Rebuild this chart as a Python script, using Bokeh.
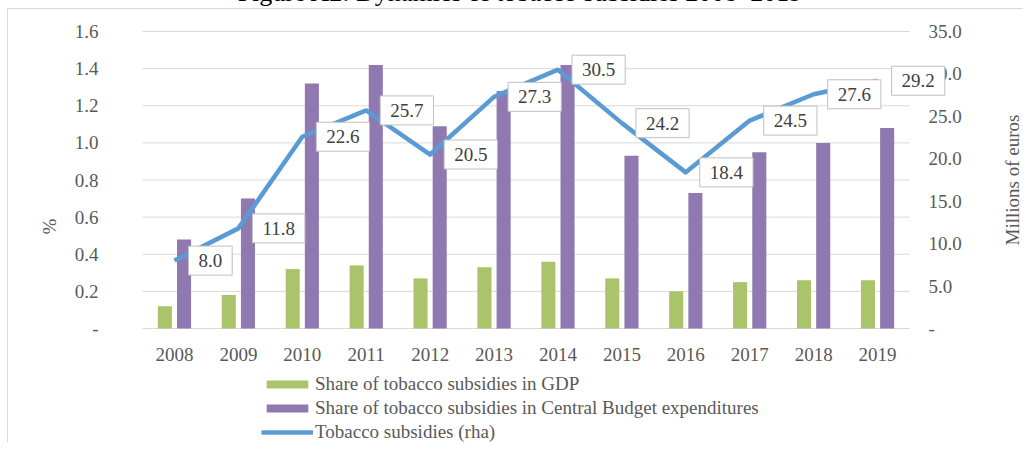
import math
from bokeh.plotting import figure
from bokeh.models import (FactorRange, Range1d, LinearAxis, FixedTicker, Legend, LegendItem,
                          Label, ColumnDataSource, Div, PrintfTickFormatter)
from bokeh.transform import dodge
from bokeh.layouts import column
from bokeh.embed import file_html
from bokeh.resources import INLINE

# ---------------- data ----------------
title_text = "Figure A2: Dynamics of tobacco subsidies 2008\u20132019"
years = ["2008", "2009", "2010", "2011", "2012", "2013", "2014", "2015", "2016", "2017", "2018", "2019"]
gdp_share = [0.12, 0.18, 0.32, 0.34, 0.27, 0.33, 0.36, 0.27, 0.20, 0.25, 0.26, 0.26]
budget_share = [0.48, 0.70, 1.32, 1.42, 1.09, 1.28, 1.42, 0.93, 0.73, 0.95, 1.00, 1.08]
subsidies = [8.0, 11.8, 22.6, 25.7, 20.5, 27.3, 30.5, 24.2, 18.4, 24.5, 27.6, 29.2]
left_ticks = [0, 0.2, 0.4, 0.6, 0.8, 1, 1.2, 1.4, 1.6]
left_tick_labels = ["-", "0.2", "0.4", "0.6", "0.8", "1.0", "1.2", "1.4", "1.6"]
right_ticks = [0, 5, 10, 15, 20, 25, 30, 35]
right_tick_labels = ["-", "5.0", "10.0", "15.0", "20.0", "25.0", "30.0", "35.0"]
series_names = ["Share of tobacco subsidies in GDP",
                "Share of tobacco subsidies in Central Budget expenditures",
                "Tobacco subsidies (rha)"]
left_axis_title = "%"
right_axis_title = "Millions of euros"

# ---------------- style / geometry ----------------
GREEN = "#A9C46A"
PURPLE = "#9079B0"
BLUE = "#5B9BD5"
GRID = "#d9d9d9"
TXT = "#595959"
FONT = "Liberation Serif"
FS = "19px"

W, H = 1016, 434           # canvas
BORDER_L = 19              # blank strip left of the frame
PLOT_W = 767               # width of the category area (px)
SIDE = 115                 # px of frame on each side of the category area
PLOT_TOP = 22              # px from frame top to the top gridline
PLOT_H = 297               # px between bottom and top gridline
n = len(years)
cat_px = PLOT_W / n
pad_units = SIDE / cat_px
left_max, right_max = left_ticks[-1], right_ticks[-1]
lpx = PLOT_H / left_max
rpx = PLOT_H / right_max
below_px = H - PLOT_TOP - PLOT_H

src = ColumnDataSource(dict(year=years, gdp=gdp_share, budget=budget_share, subs=subsidies))

p = figure(width=W, height=H,
           x_range=FactorRange(factors=years, range_padding=2 * pad_units / n,
                               range_padding_units="percent"),
           y_range=Range1d(-below_px / lpx, left_max + PLOT_TOP / lpx),
           output_backend="svg", toolbar_location=None,
           min_border=0, min_border_left=BORDER_L, min_border_right=0,
           min_border_top=0, min_border_bottom=0,
           outline_line_color=None, background_fill_color="white", border_fill_color="white",
           styles={"border-top": "1px solid #d9d9d9", "border-left": "1px solid #d9d9d9"})
p.extra_y_ranges = {"right": Range1d(-below_px / rpx, right_max + PLOT_TOP / rpx)}

p.xgrid.grid_line_color = None
p.ygrid.grid_line_color = None

# horizontal gridlines limited to the category area
p.segment(x0=[0] * len(left_ticks), x1=[n] * len(left_ticks), y0=left_ticks, y1=left_ticks,
          line_color=GRID, line_width=1)

r1 = p.vbar(x=dodge("year", -0.15, range=p.x_range), top="gdp", width=0.22, source=src,
            fill_color=GREEN, line_color=None)
r2 = p.vbar(x=dodge("year", 0.15, range=p.x_range), top="budget", width=0.22, source=src,
            fill_color=PURPLE, line_color=None)
r3 = p.line(x="year", y="subs", y_range_name="right", source=src,
            line_color=BLUE, line_width=4.5, line_join="round")

def style_axis(ax):
    ax.axis_line_color = None
    ax.major_tick_line_color = None
    ax.minor_tick_line_color = None
    ax.major_tick_in = 0
    ax.major_tick_out = 0
    ax.minor_tick_in = 0
    ax.minor_tick_out = 0
    ax.major_label_text_font = FONT
    ax.major_label_text_font_size = FS
    ax.major_label_text_color = TXT

# x axis (at value 0)
xa = p.xaxis[0]
style_axis(xa)
xa.fixed_location = 0
xa.major_label_standoff = 19

# left axis (at the start of the category area)
ya = p.yaxis[0]
style_axis(ya)
ya.fixed_location = 0
ya.ticker = FixedTicker(ticks=left_ticks)
ya.formatter = PrintfTickFormatter(format="%.1f")
ya.major_label_overrides = dict(zip(left_ticks, left_tick_labels))
ya.major_label_standoff = 44
ya.axis_label = left_axis_title
ya.axis_label_standoff = 12
ya.axis_label_text_font = FONT
ya.axis_label_text_font_size = FS
ya.axis_label_text_font_style = "normal"
ya.axis_label_text_color = TXT

# right axis (at the end of the category area)
ra = LinearAxis(y_range_name="right", ticker=FixedTicker(ticks=right_ticks),
                formatter=PrintfTickFormatter(format="%.1f"))
style_axis(ra)
ra.fixed_location = n
ra.major_label_overrides = dict(zip(right_ticks, right_tick_labels))
ra.major_label_standoff = 19
p.add_layout(ra, "right")

# right axis title (rotated, reading bottom-to-top)
p.add_layout(Label(x=n, y=right_max / 2, y_range_name="right", text=right_axis_title,
                   angle=math.pi / 2, x_offset=103, text_align="center", text_baseline="middle",
                   text_font=FONT, text_font_size=FS, text_color=TXT))

# data labels of the line
for i, v in enumerate(subsidies):
    p.add_layout(Label(x=i + 0.5, y=v, y_range_name="right", text=f"{v:.1f}",
                       x_offset=14, text_align="left", text_baseline="middle",
                       text_font=FONT, text_font_size=FS, text_color="#404040",
                       background_fill_color="white", border_line_color="#bfbfbf",
                       border_line_width=1,
                       padding=dict(left=10, right=10, top=8, bottom=8)))

legend = Legend(items=[LegendItem(label=series_names[0], renderers=[r1]),
                       LegendItem(label=series_names[1], renderers=[r2]),
                       LegendItem(label=series_names[2], renderers=[r3])],
                location=(234, 0), orientation="vertical",
                padding=0, margin=0, spacing=2,
                glyph_width=52, glyph_height=10, label_height=22, label_standoff=2,
                border_line_color=None, background_fill_alpha=0,
                label_text_font=FONT, label_text_font_size=FS, label_text_color=TXT)
p.add_layout(legend)

title_div = Div(text=title_text, width=W, height=22,
                styles={"font-family": FONT, "font-size": "26px", "line-height": "24px",
                        "color": "#000000", "text-align": "center", "white-space": "nowrap",
                        "overflow": "visible"})

layout = column(title_div, p, styles={"margin-top": "-24px", "margin-left": "7px"})

open("out.html", "w").write(file_html(layout, INLINE))
